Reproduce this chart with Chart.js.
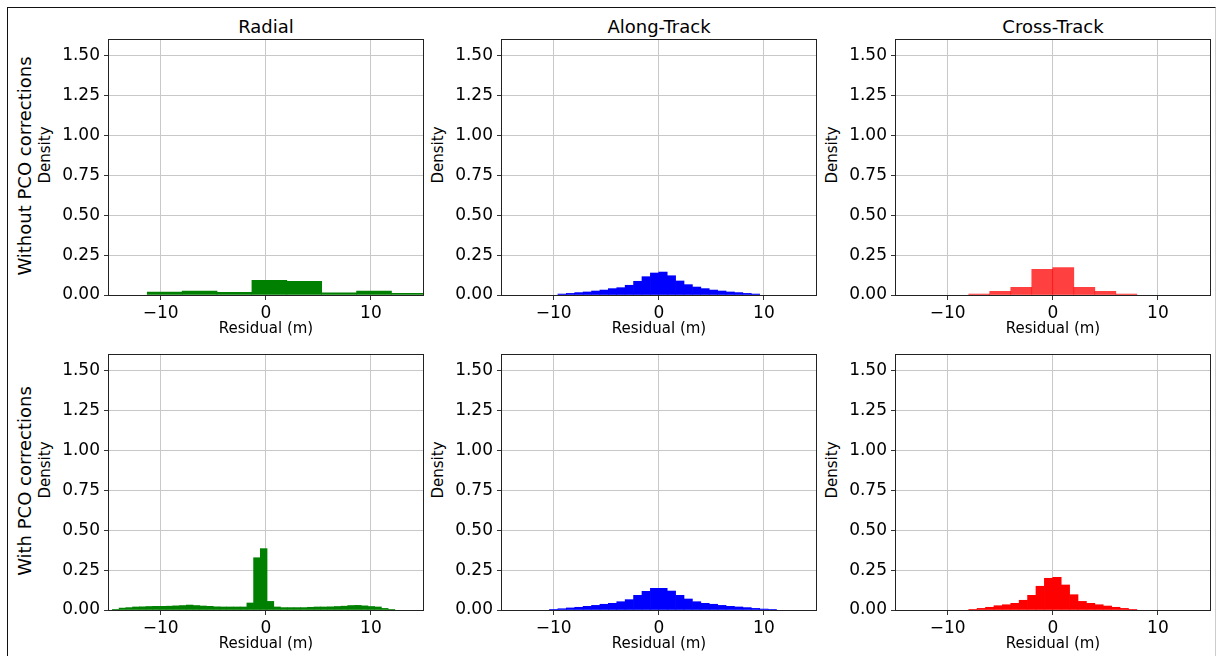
<!DOCTYPE html>
<html>
<head>
<meta charset="utf-8">
<script src="https://cdn.jsdelivr.net/npm/chart.js@4/dist/chart.umd.min.js"></script>
<style>
  body { margin: 0; background: #fff; width: 1217px; height: 656px; overflow: hidden; position: relative; font-family: "DejaVu Sans", sans-serif; }
  .frame { position: absolute; left: 7px; top: 7px; width: 1207px; height: 660px; border-left: 1px solid #111; border-top: 1px solid #111; border-right: 1px solid #ccc; }
  canvas { position: absolute; }
  .coltitle { position: absolute; top: 16px; font-size: 18px; line-height: 22px; white-space: nowrap; transform: translateX(-50%); color: #000; }
  .rowlabel, .ylabel { position: absolute; line-height: 1.2; white-space: nowrap; transform: translate(-50%, -50%) rotate(-90deg); color: #000; }
  .rowlabel { font-size: 18px; }
  .ylabel { font-size: 15px; }
</style>
</head>
<body>
<div class="frame"></div>

<div class="coltitle" style="left:266px">Radial</div>
<div class="coltitle" style="left:659px">Along-Track</div>
<div class="coltitle" style="left:1053px">Cross-Track</div>

<div class="rowlabel" style="left:25px; top:166px">Without PCO corrections</div>
<div class="rowlabel" style="left:25px; top:481px">With PCO corrections</div>

<div class="ylabel" style="left:45px; top:155px">Density</div>
<div class="ylabel" style="left:438px; top:155px">Density</div>
<div class="ylabel" style="left:832px; top:155px">Density</div>
<div class="ylabel" style="left:45px; top:470px">Density</div>
<div class="ylabel" style="left:438px; top:470px">Density</div>
<div class="ylabel" style="left:832px; top:470px">Density</div>

<canvas id="c00"></canvas>
<canvas id="c01"></canvas>
<canvas id="c02"></canvas>
<canvas id="c10"></canvas>
<canvas id="c11"></canvas>
<canvas id="c12"></canvas>

<script>
// axis ticks
const xTicks = [-10, 0, 10];
const yTicks = [0, 0.25, 0.5, 0.75, 1.0, 1.25, 1.5];

// histogram bins: first left edge, bin width, density per bin

// without PCO corrections
const radialTopStart = -11.28, radialTopWidth = 3.32;
const radialTop = [0.019, 0.025, 0.017, 0.092, 0.086, 0.013, 0.025, 0.011];

const alongTopStart = -9.6, alongTopWidth = 0.8;
const alongTop = [0.006, 0.010, 0.015, 0.019, 0.025, 0.031, 0.040, 0.046, 0.061, 0.086, 0.115, 0.138,
                  0.144, 0.121, 0.088, 0.065, 0.050, 0.040, 0.031, 0.025, 0.019, 0.015, 0.010, 0.006];

const crossTopStart = -8, crossTopWidth = 2;
const crossTop = [0.006, 0.023, 0.048, 0.161, 0.172, 0.048, 0.023, 0.006];

// with PCO corrections
const radialBotStart = -14.6, radialBotWidth = 0.64;
const radialBot = [0.004, 0.012, 0.015, 0.019, 0.020, 0.022, 0.023, 0.023, 0.024, 0.026, 0.028, 0.031,
                   0.028, 0.025, 0.023, 0.020, 0.019, 0.019, 0.019, 0.019, 0.044, 0.328, 0.385, 0.054,
                   0.019, 0.015, 0.015, 0.015, 0.015, 0.017, 0.019, 0.019, 0.020, 0.022, 0.024, 0.028,
                   0.029, 0.026, 0.022, 0.019, 0.010, 0.004];

const alongBotStart = -10.4, alongBotWidth = 0.8;
const alongBot = [0.004, 0.008, 0.013, 0.017, 0.023, 0.029, 0.036, 0.042, 0.052, 0.065, 0.092, 0.117,
                  0.136, 0.136, 0.119, 0.092, 0.069, 0.052, 0.042, 0.036, 0.029, 0.023, 0.019, 0.015,
                  0.010, 0.006, 0.004];

const crossBotStart = -8, crossBotWidth = 0.8;
const crossBot = [0.004, 0.010, 0.017, 0.027, 0.033, 0.042, 0.061, 0.092, 0.149, 0.199,
                  0.205, 0.157, 0.096, 0.054, 0.042, 0.033, 0.025, 0.017, 0.010, 0.004];

const GREEN = '#008000';
const BLUE = '#0000ff';
const RED_LIGHT = 'rgba(255,0,0,0.75)';
const RED = '#ff0000';

const FONT = '"DejaVu Sans", sans-serif';

// plot rectangles
const colLeft = [109, 502, 896];
const rowTop = [40, 355];
const plotW = 314, plotH = 255;
const yAxisW = 76, xAxisH = 50, padTop = 20, padRight = 4;

const frame = {
  id: 'frame',
  afterDraw(chart) {
    const a = chart.chartArea;
    const ctx = chart.ctx;
    ctx.save();
    ctx.strokeStyle = '#222';
    ctx.lineWidth = 1;
    ctx.strokeRect(Math.round(a.left) - 0.5, Math.round(a.top) - 0.5,
                   Math.round(a.right - a.left) + 1, Math.round(a.bottom - a.top) + 1);
    ctx.restore();
  }
};

const toBins = (start, width, heights) =>
  heights.map((h, i) => ({ x: start + width * (i + 0.5), y: h }));

const makePanel = (id, row, col, bins, color) => {
  const canvas = document.getElementById(id);
  canvas.width = yAxisW + plotW + padRight;
  canvas.height = padTop + plotH + xAxisH;
  canvas.style.left = (colLeft[col] - yAxisW) + 'px';
  canvas.style.top = (rowTop[row] - padTop) + 'px';

  new Chart(canvas, {
    type: 'bar',
    data: {
      datasets: [{
        data: bins,
        backgroundColor: color,
        borderWidth: 0,
        barPercentage: 1,
        categoryPercentage: 1,
        clip: 0
      }]
    },
    options: {
      responsive: false,
      animation: false,
      devicePixelRatio: 1,
      layout: { padding: { top: padTop, right: padRight, left: 0, bottom: 0 } },
      plugins: { legend: { display: false }, tooltip: { enabled: false } },
      scales: {
        x: {
          type: 'linear', min: -14.92, max: 14.96, offset: false, z: 1,
          afterBuildTicks: s => { s.ticks = xTicks.map(v => ({ value: v })); },
          afterFit: s => { s.height = xAxisH; },
          grid: { color: '#c8c8c8', lineWidth: 1, tickLength: 5, tickColor: '#333', offset: false },
          border: { display: false },
          ticks: {
            font: { family: FONT, size: 17 }, color: '#000', padding: 3, maxRotation: 0, autoSkip: false,
            callback: v => v < 0 ? '\u2212' + Math.abs(v) : String(v)
          },
          title: { display: true, text: 'Residual (m)', font: { family: FONT, size: 15 }, color: '#000', padding: { top: 0, bottom: 7 } }
        },
        y: {
          min: 0, max: 1.6, z: 1,
          afterBuildTicks: s => { s.ticks = yTicks.map(v => ({ value: v })); },
          afterFit: s => { s.width = yAxisW; },
          grid: { color: '#c8c8c8', lineWidth: 1, tickLength: 5, tickColor: '#333' },
          border: { display: false },
          ticks: { font: { family: FONT, size: 17 }, color: '#000', padding: 4, callback: v => v.toFixed(2) }
        }
      }
    },
    plugins: [frame]
  });
};

makePanel('c00', 0, 0, toBins(radialTopStart, radialTopWidth, radialTop), GREEN);
makePanel('c01', 0, 1, toBins(alongTopStart, alongTopWidth, alongTop), BLUE);
makePanel('c02', 0, 2, toBins(crossTopStart, crossTopWidth, crossTop), RED_LIGHT);
makePanel('c10', 1, 0, toBins(radialBotStart, radialBotWidth, radialBot), GREEN);
makePanel('c11', 1, 1, toBins(alongBotStart, alongBotWidth, alongBot), BLUE);
makePanel('c12', 1, 2, toBins(crossBotStart, crossBotWidth, crossBot), RED);
</script>
</body>
</html>
